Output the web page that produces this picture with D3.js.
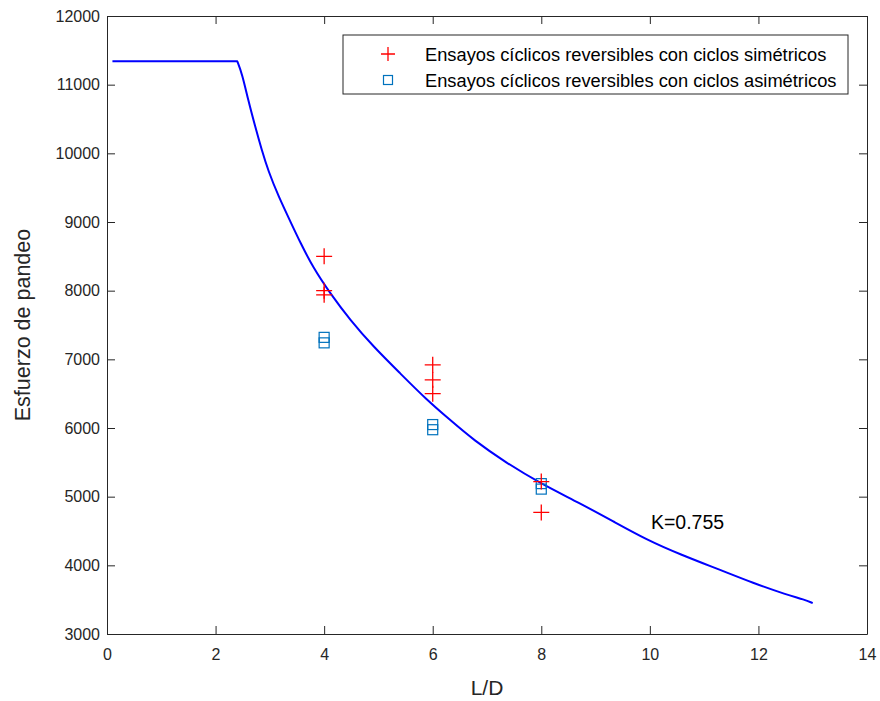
<!DOCTYPE html>
<html>
<head>
<meta charset="utf-8">
<script src="https://cdn.jsdelivr.net/npm/d3@7"></script>
<style>
  body { margin: 0; background: #fff; }
  text { font-family: "Liberation Sans", Arial, sans-serif; }
</style>
</head>
<body>
<div id="chart"></div>
<script>
// curve (L/D, esfuerzo)
var flatX = [0.1, 2.4];
var flatY = [11340, 11340];
var curveX = [2.4, 2.49, 2.60, 2.73, 2.85, 2.97, 3.155, 3.40, 3.555, 3.8, 4.108, 4.476, 4.905, 5.397, 5.89, 6.318, 6.747, 7.362, 7.976, 8.71, 9.326, 9.94, 10.555, 11.29, 11.9, 12.52, 12.85, 13.0];
var curveY = [11340, 11156, 10777, 10389, 10050, 9745, 9380, 8970, 8710, 8330, 7964, 7575, 7186, 6799, 6410, 6119, 5828, 5489, 5198, 4905, 4640, 4373, 4160, 3935, 3742, 3572, 3500, 3450];

// ensayos simetricos (+)
var simX = [4, 4, 4, 6, 6, 6, 8, 8];
var simY = [8500, 8000, 7940, 6920, 6700, 6500, 5220, 4770];

// ensayos asimetricos (cuadrados)
var asimX = [4, 4, 6, 6, 8, 8];
var asimY = [7320, 7240, 6050, 5975, 5190, 5110];

var xTicks = [0, 2, 4, 6, 8, 10, 12, 14];
var yTicks = [3000, 4000, 5000, 6000, 7000, 8000, 9000, 10000, 11000, 12000];

var legendLabels = ["Ensayos cíclicos reversibles con ciclos simétricos",
                    "Ensayos cíclicos reversibles con ciclos asimétricos"];

var W = 880, H = 701;
var margin = {top: 16, right: 13, bottom: 67, left: 107};
var width = W - margin.left - margin.right,
    height = H - margin.top - margin.bottom;
var axisColor = "#262626";

var svg = d3.select("#chart").append("svg")
    .attr("width", W)
    .attr("height", H);

var g = svg.append("g")
    .attr("transform", "translate(" + margin.left + "," + margin.top + ")");

var x = d3.scaleLinear().domain([0, 14]).range([0, width]);
var y = d3.scaleLinear().domain([3000, 12000]).range([height, 0]);

/* axes with inward ticks, mirrored on top and right */
function styleAxis(sel) {
    sel.select(".domain").attr("stroke", axisColor);
    sel.selectAll(".tick line").attr("stroke", axisColor);
    sel.selectAll(".tick text").attr("fill", axisColor)
        .style("font-size", "16px")
        .style("font-family", "Liberation Sans, Arial, sans-serif");
}

var fmt = d3.format("d");

g.append("g")
    .attr("transform", "translate(0," + height + ")")
    .call(d3.axisBottom(x).tickValues(xTicks).tickFormat(fmt).tickSizeInner(-8).tickSizeOuter(0).tickPadding(15))
    .call(styleAxis);

g.append("g")
    .call(d3.axisLeft(y).tickValues(yTicks).tickFormat(fmt).tickSizeInner(-8).tickSizeOuter(0).tickPadding(7))
    .call(styleAxis);

g.append("g")
    .call(d3.axisTop(x).tickValues(xTicks).tickSizeInner(-8).tickSizeOuter(0).tickFormat(""))
    .call(styleAxis);

g.append("g")
    .attr("transform", "translate(" + width + ",0)")
    .call(d3.axisRight(y).tickValues(yTicks).tickSizeInner(-8).tickSizeOuter(0).tickFormat(""))
    .call(styleAxis);

/* axis titles */
g.append("text")
    .attr("x", width / 2)
    .attr("y", height + 61)
    .attr("text-anchor", "middle")
    .attr("fill", axisColor)
    .style("font-size", "21px")
    .text("L/D");

g.append("text")
    .attr("transform", "translate(" + (-77) + "," + (height / 2) + ") rotate(-90)")
    .attr("text-anchor", "middle")
    .attr("fill", axisColor)
    .style("font-size", "21.5px")
    .text("Esfuerzo de pandeo");

/* curve: flat part plus smoothed decay */
var toPts = function (xs, ys) { return xs.map(function (d, i) { return [d, ys[i]]; }); };
var straight = d3.line()
    .x(function (d) { return x(d[0]); })
    .y(function (d) { return y(d[1]); });
var smooth = d3.line()
    .curve(d3.curveBasis)
    .x(function (d) { return x(d[0]); })
    .y(function (d) { return y(d[1]); });

g.append("path")
    .attr("d", straight(toPts(flatX, flatY)) + smooth(toPts(curveX, curveY)).replace(/^M/, "L"))
    .attr("fill", "none")
    .attr("stroke", "#0000ff")
    .attr("stroke-width", 2)
    .attr("stroke-linejoin", "round");

/* markers */
function plusPath(s) {
    return "M" + (-s) + ",0H" + s + "M0," + (-s) + "V" + s;
}

g.selectAll(".sq")
    .data(toPts(asimX, asimY))
    .enter().append("rect")
    .attr("class", "sq")
    .attr("x", function (d) { return x(d[0]) - 5; })
    .attr("y", function (d) { return y(d[1]) - 5; })
    .attr("width", 10)
    .attr("height", 10)
    .attr("fill", "none")
    .attr("stroke", "#0072bd")
    .attr("stroke-width", 1.2);

g.selectAll(".pl")
    .data(toPts(simX, simY))
    .enter().append("path")
    .attr("class", "pl")
    .attr("transform", function (d) { return "translate(" + x(d[0]) + "," + y(d[1]) + ")"; })
    .attr("d", plusPath(8))
    .attr("fill", "none")
    .attr("stroke", "#ff0000")
    .attr("stroke-width", 1.3);

/* annotation */
g.append("text")
    .attr("x", x(10.02))
    .attr("y", y(4530))
    .attr("fill", "#000")
    .style("font-size", "19.5px")
    .text("K=0.755");

/* legend */
var leg = svg.append("g").attr("transform", "translate(343,35)");
leg.append("rect")
    .attr("width", 505)
    .attr("height", 59)
    .attr("fill", "#fff")
    .attr("stroke", axisColor)
    .attr("stroke-width", 1);

leg.append("path")
    .attr("transform", "translate(45,19)")
    .attr("d", plusPath(7))
    .attr("stroke", "#ff0000")
    .attr("stroke-width", 1.3);

leg.append("rect")
    .attr("x", 40.5).attr("y", 40.5)
    .attr("width", 9).attr("height", 9)
    .attr("fill", "none")
    .attr("stroke", "#0072bd")
    .attr("stroke-width", 1.2);

leg.selectAll(".lt")
    .data(legendLabels)
    .enter().append("text")
    .attr("class", "lt")
    .attr("x", 82)
    .attr("y", function (d, i) { return 19 + i * 26; })
    .attr("dy", "0.36em")
    .attr("fill", "#000")
    .style("font-size", "18.3px")
    .text(function (d) { return d; });
</script>
</body>
</html>
